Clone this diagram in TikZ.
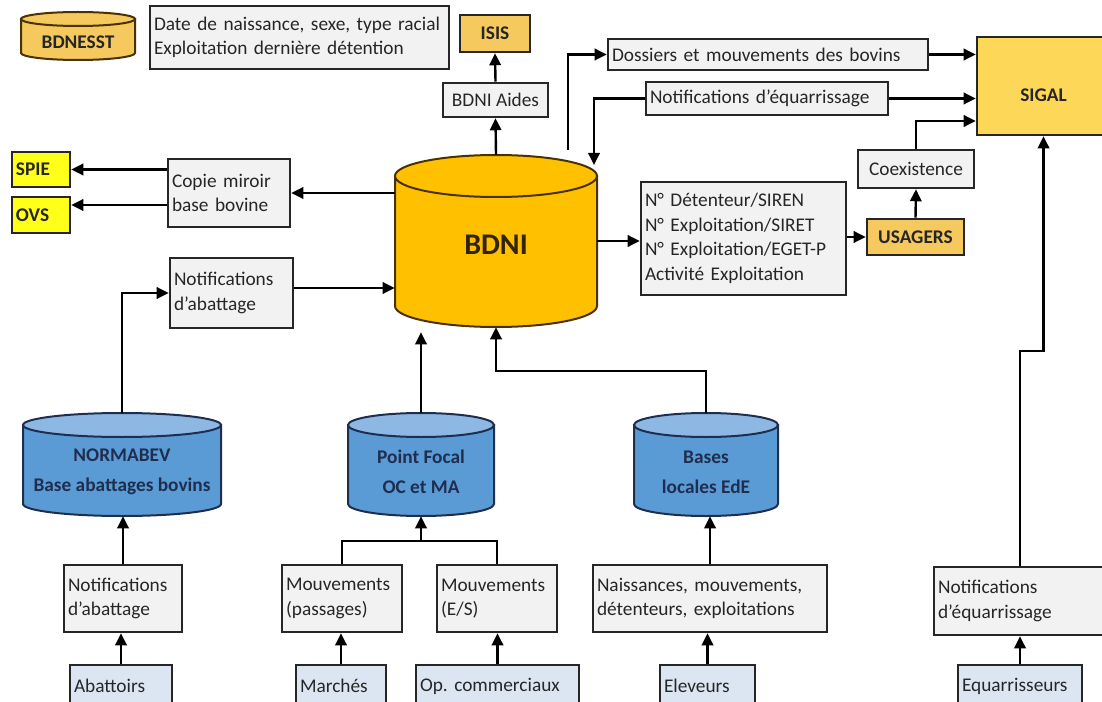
\documentclass[tikz,border=0pt]{standalone}
\usepackage{fontspec}
\setmainfont{Carlito}
\usetikzlibrary{arrows.meta}

\definecolor{bdnigold}{HTML}{FFC000}
\definecolor{lightgold}{HTML}{F6C95E}
\definecolor{sigalgold}{HTML}{FDD757}
\definecolor{brightyel}{HTML}{FFFF1A}
\definecolor{dbblue}{HTML}{5B9BD5}
\definecolor{dbbluetop}{HTML}{8DB8E3}
\definecolor{navy}{HTML}{1F2E4F}
\definecolor{boxgray}{HTML}{F2F2F2}
\definecolor{srcblue}{HTML}{DCE6F2}
\definecolor{cylbrown}{HTML}{4A3200}

% database drum: name, centre x, top y, bottom y, half width, end radius, style
\newcommand{\dbcyl}[7]{%
	\filldraw[#7 body] (#2-#5,#3+#6) -- (#2-#5,#4-#6)
		arc[start angle=180,end angle=0,x radius=#5,y radius=#6]
		-- (#2+#5,#3+#6) -- cycle;
	\filldraw[#7 top] (#2,#3+#6) ellipse[x radius=#5,y radius=#6];
	\node[inner sep=0pt,minimum width={1.5pt*#5},minimum height={0.75pt*(#4-#3)}] (#1) at (#2,{(#3+#4)/2}) {};
}

\begin{document}
\begin{tikzpicture}[x=0.75pt,y=-0.75pt]
	\tikzset{
		box/.style={draw=black!85,fill=boxgray,line width=1.9pt,inner xsep=3pt,inner ysep=2pt,
			align=left,text=black!85,font=\fontsize{14.5}{18.5}\selectfont},
		srcbox/.style={box,fill=srcblue},
		goldbox/.style={box,fill=lightgold,align=center,font=\fontsize{14.5}{18.5}\selectfont\bfseries},
		yelbox/.style={goldbox,fill=brightyel,align=left},
		arr/.style={line width=1.8pt,-{Triangle[length=9pt,width=8.5pt]}},
		link/.style={line width=1.8pt},
		gold body/.style={fill=bdnigold,draw=cylbrown,line width=1.5pt},
		gold top/.style={gold body},
		light body/.style={fill=lightgold,draw=cylbrown,line width=1.5pt},
		light top/.style={light body},
		blue body/.style={fill=dbblue,draw=navy,line width=1.5pt},
		blue top/.style={fill=dbbluetop,draw=navy,line width=1.5pt},
		dbtext/.style={align=center,text=navy,font=\fontsize{14.5}{22.5}\selectfont\bfseries},
	}
	\useasboundingbox (0,0) rectangle (1102,702);
	\clip (0,0) rectangle (1102,702);
	
	% Database drums
	\dbcyl{bdnesst}{78}{12}{60}{57}{7}{light}
	\dbcyl{bdni}{496}{155}{327}{101}{21}{gold}
	\dbcyl{normabev}{122}{413}{516}{99}{12}{blue}
	\dbcyl{pfocal}{421}{413}{516}{73}{12}{blue}
	\dbcyl{bases}{706}{413}{516}{72}{12}{blue}
	
	\node[text=black!85,font=\fontsize{14.5}{18}\selectfont\bfseries] (bdnesst-t) at (78,42) {BDNESST};
	\node[text=cylbrown!70!black,font=\fontsize{22.5}{26}\selectfont\bfseries] (bdni-t) at (496,245) {BDNI};
	\node[dbtext] (normabev-t) at (122,472) {NORMABEV\\Base abattages bovins};
	\node[dbtext] (pfocal-t) at (421,472) {Point Focal\\OC et MA};
	\node[dbtext] (bases-t) at (706,472) {Bases\\locales EdE};
	
	% Top row
	\node[box,text width=218.25pt,minimum height=47.25pt] (datebox) at (299.5,37.5)
		{Date de naissance, sexe, type racial\\Exploitation dernière détention};
	\node[goldbox,minimum width=52.5pt,minimum height=27.75pt] (isis) at (495,33.5) {ISIS};
	\node[box,align=center,minimum width=78.75pt,minimum height=25.5pt] (aides) at (495.5,100) {BDNI Aides};
	
	% Left side
	\node[yelbox,text width=37.5pt,minimum height=26.25pt] (spie) at (41,169.5) {SPIE};
	\node[yelbox,text width=37.5pt,minimum height=27pt] (ovs) at (41,215) {OVS};
	\node[box,text width=85.5pt,minimum height=51pt] (copie) at (229,193) {Copie miroir\\base bovine};
	\node[box,text width=86.25pt,minimum height=52.5pt] (notifA) at (231.5,293) {Notifications\\d’abattage};
	
	% Right side
	\node[box,text width=234pt,minimum height=23.25pt] (dossiers) at (768,54.5) {Dossiers et mouvements des bovins};
	\node[box,text width=175.5pt,minimum height=24.75pt] (notifE) at (767,98.5) {Notifications d’équarrissage};
	\node[goldbox,fill=sigalgold,minimum width=99.75pt,minimum height=73.5pt,
		text height=22.8pt,text depth=0pt] (sigal) at (1043.5,86) {SIGAL};
	\node[box,align=center,minimum width=87pt,minimum height=28.5pt] (coex) at (916,169) {Coexistence};
	\node[box,text width=147.75pt,minimum height=84.75pt] (nbox) at (743.5,238.5)
		{N° Détenteur/SIREN\\N° Exploitation/SIRET\\N° Exploitation/EGET-P\\Activité Exploitation};
	\node[goldbox,minimum width=72.75pt,minimum height=27pt] (usagers) at (915.5,237) {USAGERS};
	
	% Bottom row
	\node[box,text width=82.5pt,minimum height=50.25pt] (notifAB) at (123,598.5) {Notifications\\d’abattage};
	\node[box,text width=84pt,minimum height=50.25pt] (passages) at (342,598.5) {Mouvements\\(passages)};
	\node[box,text width=84pt,minimum height=50.25pt] (es) at (497,598.5) {Mouvements\\(E/S)};
	\node[box,text width=169.5pt,minimum height=50.25pt] (naiss) at (710,598.5)
		{Naissances, mouvements,\\détenteurs, exploitations};
	\node[box,text width=123pt,minimum height=51pt] (notifEB) at (1020,601) {Notifications\\d’équarrissage};
	
	\node[srcbox,text width=70.5pt,minimum height=31.5pt] (abattoirs) at (121,686) {Abattoirs};
	\node[srcbox,text width=61.5pt,minimum height=31.5pt] (marches) at (341,686) {Marchés};
	\node[srcbox,text width=116.25pt,minimum height=31.5pt] (opcom) at (497.5,686) {Op.\ commerciaux};
	\node[srcbox,text width=65.25pt,minimum height=31.5pt] (eleveurs) at (707.5,686) {Eleveurs};
	\node[srcbox,text width=87pt,minimum height=31.5pt] (equarr) at (1020,686) {Equarrisseurs};
	
	% Arrows around BDNI
	\draw[arr] (bdni.north) -- (aides.south);
	\draw[arr] (aides.north) -- (isis.south);
	\draw[arr] (copie.east -| bdni.west) -- (copie.east);
	\draw[arr] (copie.west |- spie.east) -- (spie.east);
	\coordinate (ovsin) at ([yshift=7.5pt]ovs.east);
	\draw[arr] (copie.west |- ovsin) -- (ovsin);
	\draw[arr] (normabev.north) |- (notifA.west);
	\coordinate (notifAout) at ([yshift=3.75pt]notifA.east);
	\draw[arr] (notifAout) -- (notifAout -| bdni.west);
	\draw[arr,shorten >=3.75pt] (pfocal.north) -- (pfocal.north |- bdni.south);
	\draw[arr] (bases.north) -- ++(0,-42) -| (bdni.south);
	
	% Arrows to SIGAL
	\coordinate (bdniout) at (568,150);
	\coordinate (bdniin) at (594,165);
	\draw[arr] (bdniout) |- (dossiers.west);
	\draw[arr] (notifE.west) -| (bdniin);
	\draw[arr] (dossiers.east) -- (dossiers.east -| sigal.west);
	\draw[arr] (notifE.east) -- (notifE.east -| sigal.west);
	\draw[arr] (bdni.east) -- (bdni.east -| nbox.west);
	\draw[arr] (nbox.east |- usagers.west) -- (usagers.west);
	\draw[arr] (usagers.north) -- (coex.south);
	\coordinate (sigalin) at ([yshift=-26.25pt]sigal.west);
	\draw[arr] (coex.north) |- (sigalin);
	\draw[arr] (notifEB.north) -- ++(0,-215) -| (sigal.south);
	
	% Arrows from the sources
	\draw[arr] (abattoirs.north) -- (abattoirs.north |- notifAB.south);
	\draw[arr] (notifAB.north) -- (notifAB.north |- normabev.south);
	\draw[arr] (marches.north) -- (marches.north |- passages.south);
	\draw[arr] (opcom.north) -- (opcom.north |- es.south);
	\draw[link] (passages.north) -- ++(0,-23) coordinate (forkL) -| (es.north);
	\draw[arr] (forkL -| pfocal.south) -- (pfocal.south);
	\draw[arr] (eleveurs.north) -- (eleveurs.north |- naiss.south);
	\draw[arr] (naiss.north) -- (naiss.north |- bases.south);
	\draw[arr] (equarr.north) -- (equarr.north |- notifEB.south);
	
\end{tikzpicture}
\end{document}
